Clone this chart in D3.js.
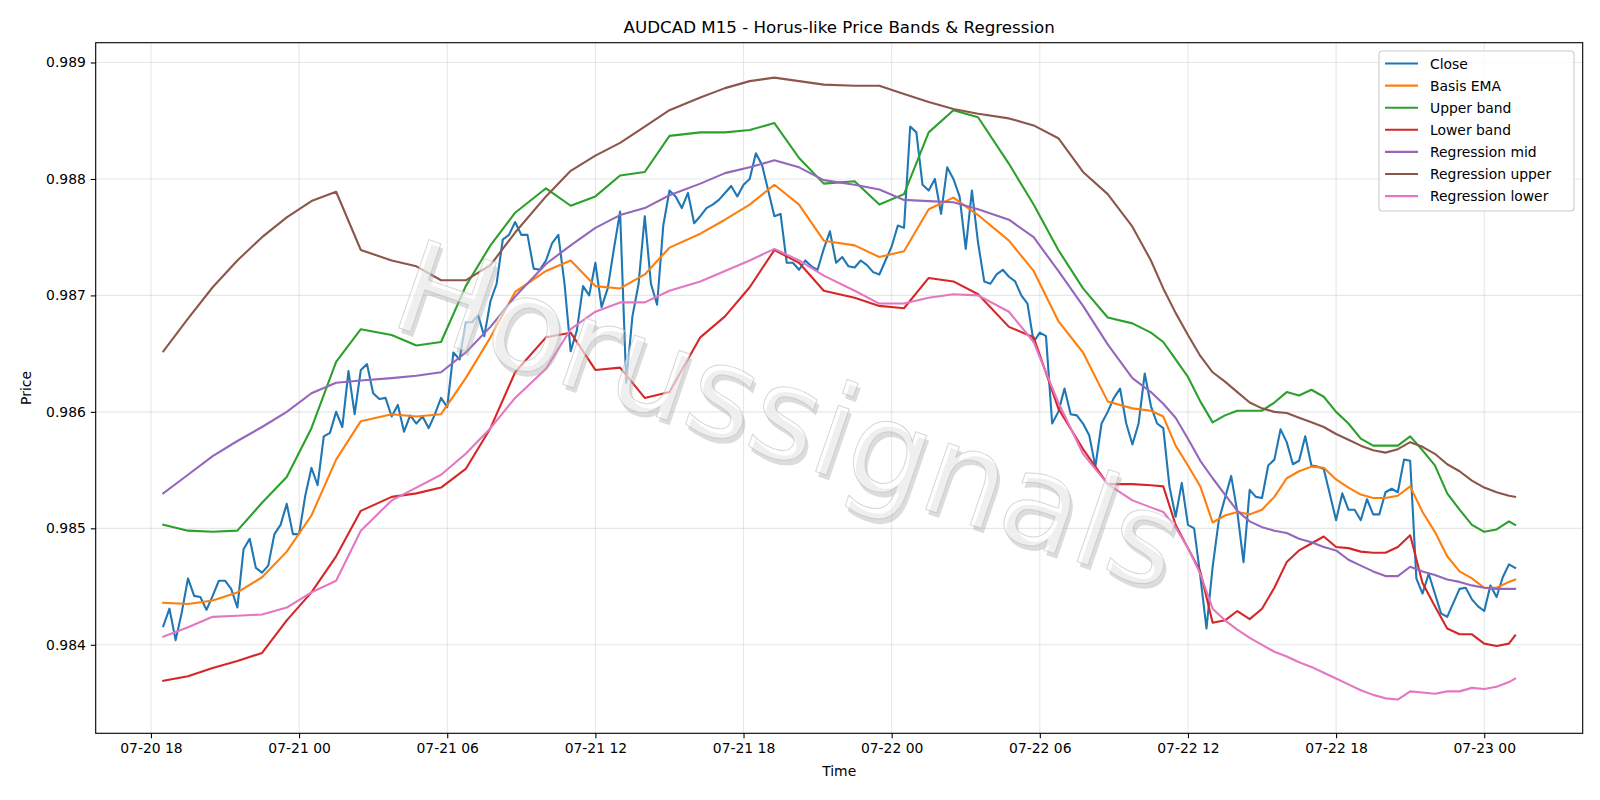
<!DOCTYPE html>
<html><head><meta charset="utf-8">
<script src="https://cdn.jsdelivr.net/npm/d3@7"></script>
<style>body{margin:0;background:#fff}svg{display:block}text{font-family:"DejaVu Sans",sans-serif}</style>
</head><body><svg id="chart" width="1600" height="800"></svg>
<script>
// ---------------- data ----------------
const chartTitle = "AUDCAD M15 - Horus-like Price Bands & Regression";
const startTime = "2025-07-20T18:30:00Z";
const barMinutes = 15;
const closeValues = [
0.98416,0.98431,0.98404,0.98428,0.98457,0.98442,0.98441,0.98430,0.98442,0.98455,
0.98455,0.98448,0.98432,0.98482,0.98491,0.98466,0.98462,0.98468,0.98495,0.98503,
0.98521,0.98495,
0.98495,0.98528,0.98552,0.98537,0.98579,0.98582,0.98600,0.98587,0.98635,0.98598,
0.98636,0.98641,0.98616,0.98611,0.98612,0.98596,0.98606,0.98583,0.98597,
0.98590,
0.98596,0.98586,0.98598,0.98612,0.98604,0.98651,0.98645,0.98677,0.98677,0.98683,
0.98665,0.98695,0.98710,0.98748,0.98752,0.98763,0.98752,0.98752,0.98723,0.98722,
0.98730,
0.98745,0.98752,0.98710,0.98652,0.98670,0.98708,0.98700,0.98728,0.98690,0.98706,
0.98740,0.98772,0.98625,0.98682,0.98710,0.98768,0.98710,0.98692,0.98760,0.98790,
0.98785,0.98775,0.98788,0.98762,0.98768,0.98775,
0.98778,
0.98782,0.98788,0.98794,0.98785,0.98795,0.98800,0.98822,0.98812,0.98790,0.98768,
0.98770,0.98728,0.98728,0.98722,0.98730,0.98725,0.98722,0.98740,0.98755,0.98728,
0.98733,0.98725,0.98724,0.98730,
0.98726,
0.98720,0.98718,0.98730,0.98742,0.98760,0.98758,0.98845,0.98840,0.98795,0.98790,
0.98800,0.98770,0.98810,0.98800,0.98785,0.98740,0.98790,0.98745,0.98712,0.98710,
0.98718,0.98722,
0.98716,
0.98712,0.98700,0.98693,0.98660,0.98668,0.98665,0.98590,0.98600,0.98620,0.98598,0.98597,
0.98590,
0.98580,0.98553,0.98590,0.98600,0.98612,0.98620,0.98590,0.98572,0.98590,0.98633,0.98605,
0.98590,0.98586,0.98536,0.98510,0.98539,0.98503,0.98500,0.98459,0.98414,0.98467,
0.98507,0.98526,0.98545,0.98514,0.98471,0.98533,0.98527,0.98526,0.98554,0.98559,
0.98585,0.98574,0.98555,0.98558,0.98579,0.98554,0.98553,0.98551,0.98529,0.98507,
0.98530,0.98516,0.98516,0.98507,0.98525,0.98512,0.98512,0.98531,0.98534,0.98531,
0.98559,0.98558,0.98457,0.98444,0.98461,0.98444,0.98427,0.98424,0.98436,0.98448,
0.98449,0.98439,0.98433,0.98429,0.98451,0.98441,0.98458,0.98469,0.98466];

// bar numbers at which the smooth series were read
const smoothBars = [0,4,8,12,16,20,24,28,32,37,41,45,49,53,57,62,66,70,74,78,82,87,91,95,99,103,107,112,116,120,
124,128,132,137,141,145,149,153,157,160,
162,164,166,168,170,172,174,176,178,180,182,184,186,188,190,192,194,196,198,200,202,204,206,208,210,212,214,216,218,219];

const basisEMA = [
0.98436,0.98435,0.98438,0.98445,0.98458,0.98480,0.98511,0.98559,0.98592,0.98598,
0.98596,0.98598,0.98629,0.98664,0.98703,0.98721,0.98730,0.98708,0.98706,0.98718,
0.98741,0.98753,0.98765,0.98778,0.98795,0.98778,0.98747,0.98743,0.98733,0.98738,
0.98774,0.98784,0.98769,0.98747,0.98721,0.98678,0.98651,0.98609,0.98603,0.98601,
0.98596,0.98571,0.98554,0.98536,0.98505,0.98511,0.98514,0.98512,0.98516,0.98527,0.98543,0.98549,0.98553,0.98552,0.98542,
0.98535,0.98529,0.98526,0.98526,0.98528,0.98536,0.98514,0.98497,0.98476,0.98463,0.98457,0.98449,0.98449,0.98454,0.98456];
const upperBand = [
0.98503,0.98498,0.98497,0.98498,0.98522,0.98544,0.98586,0.98643,0.98671,0.98666,
0.98657,0.98660,0.98708,0.98743,0.98771,0.98792,0.98777,0.98785,0.98803,0.98806,
0.98837,0.98840,0.98840,0.98842,0.98848,0.98818,0.98796,0.98798,0.98778,0.98787,
0.98840,0.98859,0.98853,0.98813,0.98778,0.98739,0.98706,0.98681,0.98676,0.98668,
0.98660,0.98645,0.98630,0.98609,0.98591,0.98597,0.98601,0.98601,0.98601,0.98608,0.98617,0.98614,0.98619,0.98613,0.98600,
0.98590,0.98577,0.98571,0.98571,0.98571,0.98579,0.98567,0.98554,0.98530,0.98516,0.98503,0.98497,0.98499,0.98506,0.98503];
const lowerBand = [
0.98369,0.98373,0.98380,0.98386,0.98393,0.98421,0.98445,0.98476,0.98515,0.98527,
0.98530,0.98535,0.98551,0.98586,0.98634,0.98664,0.98668,0.98636,0.98638,0.98612,
0.98617,0.98664,0.98682,0.98707,0.98739,0.98728,0.98704,0.98698,0.98691,0.98689,
0.98715,0.98712,0.98701,0.98673,0.98664,0.98603,0.98568,0.98538,0.98538,0.98537,
0.98536,0.98503,0.98483,0.98463,0.98419,0.98421,0.98429,0.98422,0.98431,0.98449,0.98471,0.98481,0.98487,0.98493,0.98484,
0.98483,0.98480,0.98479,0.98479,0.98484,0.98494,0.98453,0.98433,0.98414,0.98409,0.98409,0.98401,0.98399,0.98401,0.98408];
const regressionMid = [
0.98530,0.98546,0.98562,0.98575,0.98587,0.98600,0.98616,0.98625,0.98627,0.98629,
0.98631,0.98634,0.98651,0.98673,0.98699,0.98727,0.98743,0.98758,0.98769,0.98775,
0.98786,0.98796,0.98805,0.98810,0.98816,0.98810,0.98799,0.98795,0.98791,0.98782,
0.98781,0.98780,0.98774,0.98765,0.98750,0.98721,0.98691,0.98658,0.98629,0.98617,
0.98607,0.98595,0.98577,0.98558,0.98543,0.98529,0.98515,0.98506,0.98501,0.98498,0.98496,0.98491,0.98488,0.98484,0.98481,
0.98473,0.98468,0.98463,0.98459,0.98459,0.98467,0.98463,0.98460,0.98456,0.98454,0.98451,0.98449,0.98448,0.98448,0.98448];
const regressionUpper = [
0.98652,0.98680,0.98707,0.98730,0.98750,0.98767,0.98781,0.98789,0.98739,0.98730,
0.98725,0.98713,0.98713,0.98726,0.98754,0.98785,0.98807,0.98820,0.98831,0.98845,
0.98859,0.98870,0.98878,0.98884,0.98887,0.98884,0.98881,0.98880,0.98880,0.98873,
0.98866,0.98860,0.98856,0.98852,0.98846,0.98835,0.98806,0.98787,0.98759,0.98730,
0.98706,0.98685,0.98666,0.98648,0.98634,0.98626,0.98617,0.98608,0.98603,0.98600,0.98599,0.98595,0.98591,0.98587,0.98581,
0.98576,0.98571,0.98567,0.98565,0.98568,0.98574,0.98570,0.98564,0.98555,0.98549,0.98541,0.98535,0.98531,0.98528,0.98527];
const regressionLower = [
0.98407,0.98415,0.98424,0.98425,0.98426,0.98432,0.98445,0.98455,0.98498,0.98524,
0.98535,0.98546,0.98564,0.98586,0.98612,0.98637,0.98671,0.98686,0.98694,0.98694,
0.98704,0.98712,0.98721,0.98730,0.98740,0.98730,0.98717,0.98704,0.98693,0.98693,
0.98698,0.98701,0.98700,0.98686,0.98660,0.98608,0.98564,0.98538,0.98524,0.98518,
0.98514,0.98501,0.98483,0.98461,0.98431,0.98421,0.98413,0.98406,0.98400,0.98394,0.98390,0.98385,0.98381,0.98376,0.98371,
0.98366,0.98361,0.98357,0.98354,0.98353,0.98360,0.98359,0.98358,0.98360,0.98360,0.98363,0.98362,0.98364,0.98368,0.98371];

const seriesNames = ["Close","Basis EMA","Upper band","Lower band","Regression mid","Regression upper","Regression lower"];
const seriesColors = ["#1f77b4","#ff7f0e","#2ca02c","#d62728","#9467bd","#8c564b","#e377c2"];
const yTickValues = [0.984,0.985,0.986,0.987,0.988,0.989];
const yLimits = [0.98324,0.98917];
const xTickFormat = "%m-%d %H";
const watermarkText = "Horussignals";

// ---------------- layout ----------------
const W = 1600, H = 800;
const plot = {left: 95.7, right: 1582.7, top: 42.7, bottom: 733.3};
const svg = d3.select("#chart");
svg.append("rect").attr("width", W).attr("height", H).attr("fill", "#fff");

const t0 = new Date(startTime).getTime();
const timeOf = i => new Date(t0 + i * barMinutes * 60000);
const closeData = closeValues.map((v, i) => ({t: timeOf(i), v}));
const smoothSeries = [basisEMA, upperBand, lowerBand, regressionMid, regressionUpper, regressionLower]
  .map(arr => arr.map((v, k) => ({t: timeOf(smoothBars[k]), v})));
const allSeries = [closeData, ...smoothSeries];

const tMin = timeOf(0).getTime(), tMax = timeOf(closeValues.length - 1).getTime();
const pad = (tMax - tMin) * 0.05;
const x = d3.scaleUtc().domain([new Date(tMin - pad), new Date(tMax + pad)]).range([plot.left, plot.right]);
const y = d3.scaleLinear().domain(yLimits).range([plot.bottom, plot.top]);
const xTicks = x.ticks(d3.utcHour.every(6));

// grid
const grid = svg.append("g");
grid.selectAll(".gx").data(xTicks).join("line")
  .attr("x1", d => x(d)).attr("x2", d => x(d)).attr("y1", plot.top).attr("y2", plot.bottom)
  .attr("stroke", "#b0b0b0").attr("stroke-opacity", 0.3).attr("stroke-width", 1.1);
grid.selectAll(".gy").data(yTickValues).join("line")
  .attr("y1", d => y(d)).attr("y2", d => y(d)).attr("x1", plot.left).attr("x2", plot.right)
  .attr("stroke", "#b0b0b0").attr("stroke-opacity", 0.3).attr("stroke-width", 1.1);

// lines
svg.append("clipPath").attr("id", "clip").append("rect")
  .attr("x", plot.left).attr("y", plot.top).attr("width", plot.right - plot.left).attr("height", plot.bottom - plot.top);
const line = d3.line().x(d => x(d.t)).y(d => y(d.v));
svg.append("g").attr("clip-path", "url(#clip)").selectAll("path").data(allSeries).join("path")
  .attr("d", line).attr("fill", "none")
  .attr("stroke", (d, i) => seriesColors[i]).attr("stroke-width", 2.1)
  .attr("stroke-linejoin", "round").attr("stroke-linecap", "square");

// watermark
const wm = svg.append("g").attr("transform", "translate(786,424) rotate(19)");
wm.append("text").attr("x", 4).attr("y", 4).attr("text-anchor", "middle").attr("dominant-baseline", "middle")
  .attr("font-size", 128).attr("fill", "#a8a8a8").attr("fill-opacity", 0.4).text(watermarkText);
wm.append("text").attr("text-anchor", "middle").attr("dominant-baseline", "middle")
  .attr("font-size", 128).attr("fill", "#ffffff").attr("fill-opacity", 0.55)
  .attr("stroke", "#bdbdbd").attr("stroke-width", 1).attr("stroke-opacity", 0.6).text(watermarkText);

// axes
const xAxis = d3.axisBottom(x).tickValues(xTicks).tickFormat(d3.utcFormat(xTickFormat)).tickSize(4.9).tickPadding(4.9);
const gx = svg.append("g").attr("transform", `translate(0,${plot.bottom})`).call(xAxis);
const yAxis = d3.axisLeft(y).tickValues(yTickValues).tickFormat(d3.format(".3f")).tickSize(4.9).tickPadding(4.9);
const gy = svg.append("g").attr("transform", `translate(${plot.left},0)`).call(yAxis);
[gx, gy].forEach(g => {
  g.select(".domain").remove();
  g.selectAll(".tick line").attr("stroke", "#000").attr("stroke-width", 1.1);
  g.selectAll(".tick text").attr("font-size", 13.9).attr("fill", "#000").attr("font-family", "DejaVu Sans");
});
svg.append("rect").attr("x", plot.left).attr("y", plot.top).attr("width", plot.right - plot.left)
  .attr("height", plot.bottom - plot.top).attr("fill", "none").attr("stroke", "#000").attr("stroke-width", 1.1);

// labels
svg.append("text").attr("x", (plot.left + plot.right) / 2).attr("y", 33).attr("text-anchor", "middle")
  .attr("font-size", 16.7).text(chartTitle);
svg.append("text").attr("x", (plot.left + plot.right) / 2).attr("y", 776).attr("text-anchor", "middle")
  .attr("font-size", 13.9).text("Time");
svg.append("text").attr("transform", `translate(31,${(plot.top + plot.bottom) / 2}) rotate(-90)`)
  .attr("text-anchor", "middle").attr("font-size", 13.9).text("Price");

// legend
const lg = svg.append("g").attr("transform", "translate(1379,51)");
lg.append("rect").attr("width", 195).attr("height", 160).attr("rx", 3)
  .attr("fill", "#fff").attr("fill-opacity", 0.8).attr("stroke", "#cccccc").attr("stroke-width", 1.1);
seriesNames.forEach((name, i) => {
  const yy = 12.5 + i * 22.1;
  lg.append("line").attr("x1", 6).attr("x2", 39).attr("y1", yy).attr("y2", yy)
    .attr("stroke", seriesColors[i]).attr("stroke-width", 2.1);
  lg.append("text").attr("x", 51).attr("y", yy).attr("dy", "0.36em").attr("font-size", 13.9).text(name);
});
</script></body></html>
